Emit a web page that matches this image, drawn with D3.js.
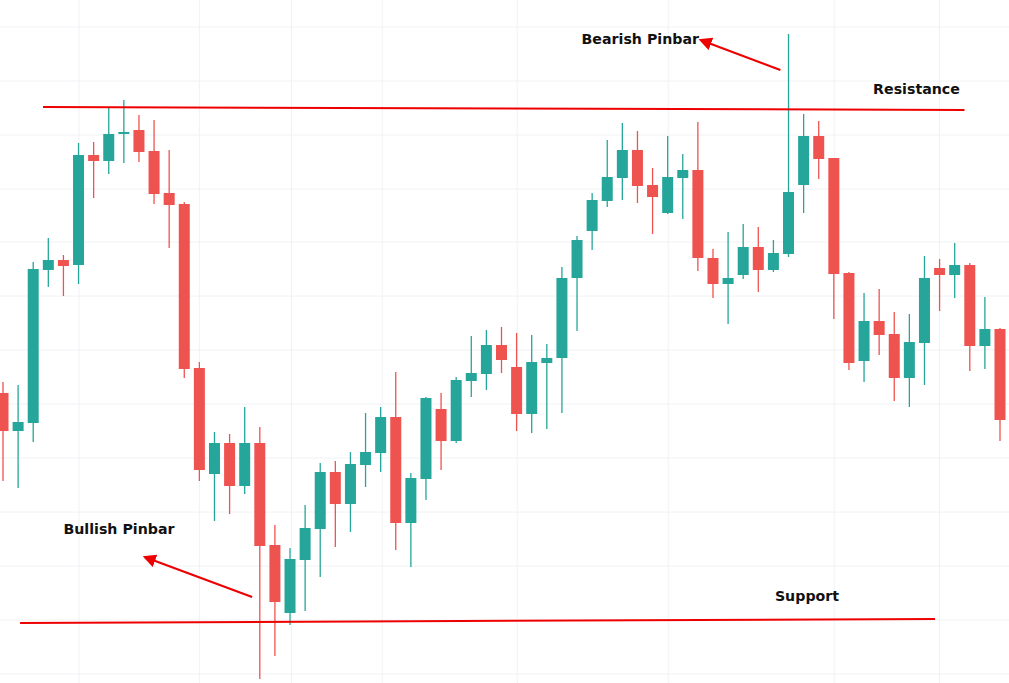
<!DOCTYPE html>
<html><head><meta charset="utf-8">
<script src="https://cdn.jsdelivr.net/npm/d3@7"></script>
<style>html,body{margin:0;padding:0;background:#fff;overflow:hidden}</style>
</head><body><svg id="c" width="1009" height="683"></svg>
<script>
// price data (arbitrary units), one entry per candle
const opens  = [307,269,277,430,440,435,545,539,566,570,549,507,496,332,226,257,214,257,155,87,140,171,228,196,235,247,283,177,221,291,259,319,326,355,333,286,337,342,422,469,499,522,550,515,487,522,530,442,416,425,453,430,446,515,564,542,427,339,379,366,322,357,432,425,435,354,371];
const closes = [269,278,431,440,434,545,539,566,568,548,506,495,331,230,257,214,257,154,98,141,172,228,196,236,248,283,177,222,302,259,320,327,355,340,286,338,342,422,460,500,523,550,514,503,523,530,442,416,422,453,430,447,508,564,541,426,337,379,365,322,358,422,425,435,354,371,280];
const highs  = [318,315,438,462,445,557,558,592,600,585,580,550,498,338,268,266,293,273,175,152,195,237,239,248,287,293,328,227,303,307,323,364,370,373,367,365,356,433,464,507,560,577,569,532,564,546,578,451,468,476,473,460,666,586,579,542,428,407,411,388,386,444,441,457,437,403,372];
const lows   = [219,212,258,413,404,416,502,526,537,538,496,452,322,219,179,186,206,21,44,75,89,123,153,168,213,228,150,133,200,230,257,303,310,327,269,267,271,287,369,450,493,500,497,466,486,481,429,402,376,421,408,428,443,487,521,381,330,318,345,299,293,315,389,402,329,331,259];
const gridPrices = [673,619,565,511,458,404,350,296,242,188,134,80,26];
const gridIdx = [5.03,13,19.1,25.1,34.04,44.04,55.03,62];
const levels = [
  {name:"Resistance", i0:2.65, p0:593, i1:63.65, p1:590},
  {name:"Support",    i0:1.13, p0:77,  i1:61.7,  p1:81}
];
const arrows = [
  {from:[16.49,103], to:[9.9,140]},
  {from:[51.46,630], to:[46.7,657]}
];
const labels = [
  {text:"Bullish Pinbar", i:4.0,  p:166},
  {text:"Bearish Pinbar", i:38.3, p:656},
  {text:"Resistance",     i:57.6, p:606},
  {text:"Support",        i:51.1, p:99}
];

const svg = d3.select("#c");
const x = d3.scaleLinear().domain([0,66]).range([3,1000]);
const y = d3.scaleLinear().domain([0,700]).range([700,0]);
const up = "#26a69a", dn = "#ef5350";

svg.append("g").selectAll("line").data(gridPrices).join("line")
  .attr("x1",0).attr("x2",1009).attr("y1",d=>y(d)).attr("y2",d=>y(d))
  .attr("stroke","#f0f2f5").attr("stroke-width",1);
svg.append("g").selectAll("line").data(gridIdx).join("line")
  .attr("y1",0).attr("y2",683).attr("x1",d=>x(d)).attr("x2",d=>x(d))
  .attr("stroke","#f0f2f5").attr("stroke-width",1);

const data = opens.map((o,i)=>({i,o,c:closes[i],h:highs[i],l:lows[i]}));
const g = svg.append("g");
g.selectAll("line").data(data).join("line")
  .attr("x1",d=>x(d.i)).attr("x2",d=>x(d.i))
  .attr("y1",d=>y(d.h)).attr("y2",d=>y(d.l))
  .attr("stroke",d=>d.c>=d.o?up:dn).attr("stroke-width",1.3);
g.selectAll("rect").data(data).join("rect")
  .attr("x",d=>x(d.i)-5.5).attr("width",11)
  .attr("y",d=>y(Math.max(d.o,d.c)))
  .attr("height",d=>Math.max(2,Math.abs(y(d.o)-y(d.c))))
  .attr("fill",d=>d.c>=d.o?up:dn);

svg.selectAll(".lvl").data(levels).join("line").attr("class","lvl")
  .attr("x1",d=>x(d.i0)).attr("y1",d=>y(d.p0)).attr("x2",d=>x(d.i1)).attr("y2",d=>y(d.p1))
  .attr("stroke","#ee0000").attr("stroke-width",2);

svg.append("defs").append("marker").attr("id","ah").attr("viewBox","0 0 10 10")
  .attr("refX",2).attr("refY",5).attr("markerWidth",6).attr("markerHeight",6)
  .attr("orient","auto").attr("markerUnits","strokeWidth")
  .append("path").attr("d","M0,0 L10,5 L0,10 z").attr("fill","#ee0000");
svg.selectAll(".arr").data(arrows).join("line").attr("class","arr")
  .attr("x1",d=>x(d.from[0])).attr("y1",d=>y(d.from[1]))
  .attr("x2",d=>x(d.to[0])).attr("y2",d=>y(d.to[1]))
  .attr("stroke","#ee0000").attr("stroke-width",2.2).attr("marker-end","url(#ah)");

svg.selectAll(".lab").data(labels).join("text").attr("class","lab")
  .attr("x",d=>x(d.i)).attr("y",d=>y(d.p))
  .attr("font-family","DejaVu Sans, Verdana, sans-serif").attr("font-weight","bold")
  .attr("font-size",14.2).attr("fill","#111").text(d=>d.text);
</script></body></html>
